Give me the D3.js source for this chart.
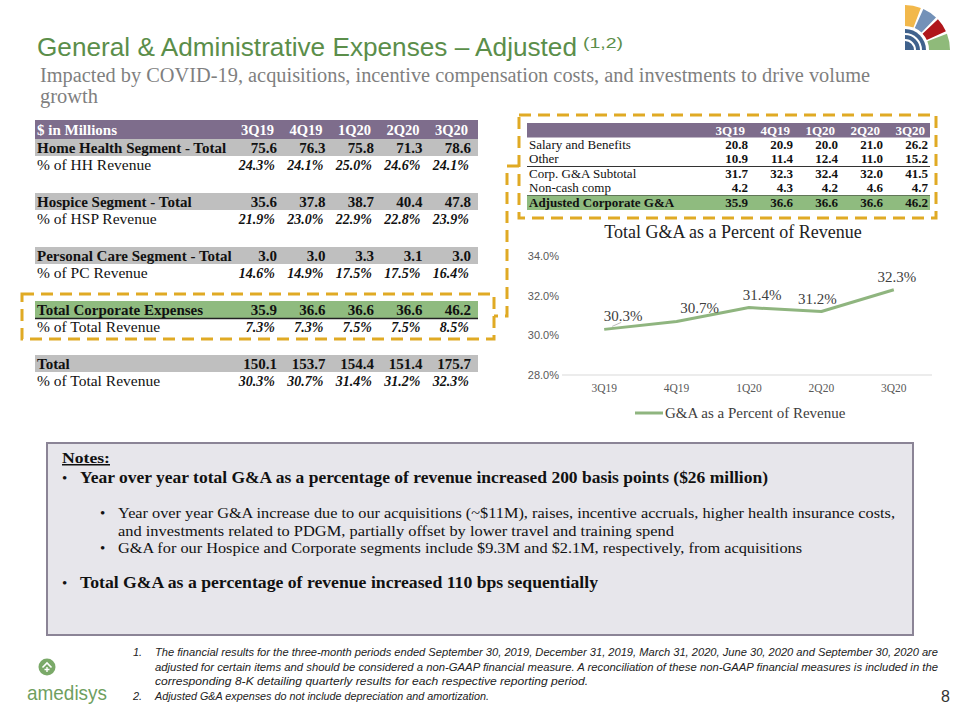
<!DOCTYPE html>
<html><head><meta charset="utf-8">
<script src="https://cdn.jsdelivr.net/npm/d3@7"></script>
<style>body{margin:0;background:#fff}</style>
</head><body><svg id="c" width="960" height="720"></svg>
<script>
// ---------------- DATA ----------------
const quarters = ["3Q19", "4Q19", "1Q20", "2Q20", "3Q20"];
const hhTotal = [75.6, 76.3, 75.8, 71.3, 78.6];
const hhPct = [24.3, 24.1, 25.0, 24.6, 24.1];
const hspTotal = [35.6, 37.8, 38.7, 40.4, 47.8];
const hspPct = [21.9, 23.0, 22.9, 22.8, 23.9];
const pcTotal = [3.0, 3.0, 3.3, 3.1, 3.0];
const pcPct = [14.6, 14.9, 17.5, 17.5, 16.4];
const corpTotal = [35.9, 36.6, 36.6, 36.6, 46.2];
const corpPct = [7.3, 7.3, 7.5, 7.5, 8.5];
const grandTotal = [150.1, 153.7, 154.4, 151.4, 175.7];
const totalPct = [30.3, 30.7, 31.4, 31.2, 32.3];

const salary = [20.8, 20.9, 20.0, 21.0, 26.2];
const other = [10.9, 11.4, 12.4, 11.0, 15.2];
const corpSubtotal = [31.7, 32.3, 32.4, 32.0, 41.5];
const nonCash = [4.2, 4.3, 4.2, 4.6, 4.7];
const adjCorp = [35.9, 36.6, 36.6, 36.6, 46.2];

const gaPctRevenue = [30.3, 30.7, 31.4, 31.2, 32.3];
const yTicks = [28, 30, 32, 34];

const titleText = "General & Administrative Expenses \u2013 Adjusted";
const subtitleLines = ["Impacted by COVID-19, acquisitions, incentive compensation costs, and investments to drive volume", "growth"];
const chartTitle = "Total G&A as a Percent of Revenue";
const legendLabel = "G&A as a Percent of Revenue";
const notes = [
  {lvl: 1, bold: true, bullet: true, text: "Year over year total G&A as a percentage of revenue increased 200 basis points  ($26 million)"},
  {lvl: 2, bold: false, bullet: true, text: "Year over year G&A increase due to our acquisitions (~$11M), raises, incentive accruals, higher health insurance costs,"},
  {lvl: 2, bold: false, bullet: false, text: "and investments related to PDGM, partially offset by lower travel and training spend"},
  {lvl: 2, bold: false, bullet: true, text: "G&A for our Hospice and Corporate segments include $9.3M and $2.1M, respectively, from acquisitions"},
  {lvl: 1, bold: true, bullet: true, text: "Total G&A as a percentage of revenue increased 110 bps sequentially"}
];
const footnotes = [
  {num: "1.", text: "The financial results for the three-month periods ended September 30, 2019, December 31, 2019, March 31, 2020, June 30, 2020 and September 30, 2020 are"},
  {num: "", text: "adjusted for certain items and should be considered a non-GAAP financial measure. A reconciliation of these non-GAAP financial measures is included in the"},
  {num: "", text: "corresponding 8-K detailing quarterly results for each respective reporting period."},
  {num: "2.", text: "Adjusted G&A expenses do not include depreciation and amortization."}
];

// ---------------- LAYOUT ----------------
const SERIF = "'Liberation Serif','Times New Roman',serif";
const SANS = "'Liberation Sans',Arial,sans-serif";
const C = {
  green: "#5b8e4a", purple: "#7e6d8c", gray: "#bfbfbf", rowGreen: "#8fbb7f",
  line: "#8fb57f", gold: "#e0aa24", sub: "#7f7f7f", text: "#111"
};
const svg = d3.select("#c");
const fmt1 = d3.format(".1f");
const fmtPct = d => fmt1(d) + "%";
function fit(sel, w) { return sel.attr("textLength", w).attr("lengthAdjust", "spacingAndGlyphs"); }

// Title
fit(svg.append("text").attr("x", 37).attr("y", 56).attr("font-family", SANS).attr("font-size", 26)
  .attr("fill", C.green).text(titleText), 540);
fit(svg.append("text").attr("x", 583).attr("y", 48).attr("font-family", SANS).attr("font-size", 15)
  .attr("fill", C.green).text("(1,2)"), 40);
const subW = [830, 58];
subtitleLines.forEach((t, i) => {
  fit(svg.append("text").attr("x", 40).attr("y", 82 + i * 21).attr("font-family", SERIF).attr("font-size", 20)
    .attr("fill", C.sub).text(t), subW[i]);
});

// Top-right logo
(function () {
  const g = svg.append("g").attr("transform", "translate(905,50)");
  const segs = [
    {a0: 0.0, a1: 0.36, c: "#f2b84b"},
    {a0: 0.42, a1: 0.76, c: "#7391b8"},
    {a0: 0.82, a1: 1.14, c: "#b0161b"},
    {a0: 1.20, a1: Math.PI / 2, c: "#8fba7a"}
  ];
  const arc = d3.arc();
  segs.forEach(s => g.append("path").attr("d", arc({innerRadius: 24, outerRadius: 45, startAngle: s.a0, endAngle: s.a1})).attr("fill", s.c));
  g.append("path").attr("d", arc({innerRadius: 0, outerRadius: 21, startAngle: 0, endAngle: Math.PI / 2})).attr("fill", "#3f618c");
  [9, 15].forEach(r => g.append("path").attr("d", arc({innerRadius: r, outerRadius: r + 2, startAngle: 0, endAngle: Math.PI / 2})).attr("fill", "#fff"));
})();

// ---------------- LEFT TABLE ----------------
const rowsL = [
  {type: "header", label: "$ in Millions"},
  {type: "gray", label: "Home Health Segment - Total", vals: hhTotal},
  {type: "pct", label: "% of HH Revenue", vals: hhPct},
  {type: "blank"},
  {type: "gray", label: "Hospice Segment - Total", vals: hspTotal},
  {type: "pct", label: "% of HSP Revenue", vals: hspPct},
  {type: "blank"},
  {type: "gray", label: "Personal Care Segment - Total", vals: pcTotal},
  {type: "pct", label: "% of PC Revenue", vals: pcPct},
  {type: "blank"},
  {type: "green", label: "Total Corporate Expenses", vals: corpTotal},
  {type: "pct", label: "% of Total Revenue", vals: corpPct},
  {type: "blank"},
  {type: "gray", label: "Total", vals: grandTotal},
  {type: "pct", label: "% of Total Revenue", vals: totalPct}
];
const yL = d3.scaleBand().domain(d3.range(rowsL.length)).range([120, 390]);
const xL = d3.scalePoint().domain(quarters).range([277, 471]);
const L0 = 35, L1 = 478;
const gL = svg.append("g");
rowsL.forEach((r, i) => {
  const y = yL(i);
  if (r.type === "blank") return;
  if (r.type === "header") {
    gL.append("rect").attr("x", L0).attr("y", y).attr("width", L1 - L0).attr("height", 19).attr("fill", C.purple);
    gL.append("text").attr("x", 37).attr("y", y + 14.5).attr("font-family", SERIF).attr("font-weight", "bold")
      .attr("font-size", 15).attr("fill", "#fff").text(r.label);
    gL.selectAll(null).data(quarters).join("text").attr("x", q => xL(q) - 3).attr("y", y + 14.5)
      .attr("text-anchor", "end").attr("font-family", SERIF).attr("font-weight", "bold").attr("font-size", 14.5)
      .attr("fill", "#fff").text(q => q);
    return;
  }
  if (r.type === "gray" || r.type === "green") {
    gL.append("rect").attr("x", L0).attr("y", y + 1).attr("width", L1 - L0).attr("height", 17)
      .attr("fill", r.type === "gray" ? C.gray : C.rowGreen);
    if (r.type === "green") gL.append("line").attr("x1", L0).attr("x2", L1).attr("y1", y + 18.5).attr("y2", y + 18.5)
      .attr("stroke", "#222").attr("stroke-width", 1.5);
    gL.append("text").attr("x", 37).attr("y", y + 14.5).attr("font-family", SERIF).attr("font-weight", "bold")
      .attr("font-size", 15).attr("fill", C.text).text(r.label);
    gL.selectAll(null).data(r.vals).join("text").attr("x", (d, j) => xL(quarters[j])).attr("y", y + 14.5)
      .attr("text-anchor", "end").attr("font-family", SERIF).attr("font-weight", "bold").attr("font-size", 15)
      .attr("fill", C.text).text(fmt1);
  } else {
    gL.append("text").attr("x", 37).attr("y", y + 13.5).attr("font-family", SERIF)
      .attr("font-size", 15.5).attr("fill", C.text).text(r.label);
    gL.selectAll(null).data(r.vals).join("text").attr("x", (d, j) => xL(quarters[j]) - 2).attr("y", y + 13.5)
      .attr("text-anchor", "end").attr("font-family", SERIF).attr("font-weight", "bold").attr("font-style", "italic")
      .attr("font-size", 14).attr("fill", C.text).text(fmtPct);
  }
});

// ---------------- RIGHT TABLE ----------------
const rowsR = [
  {type: "header"},
  {type: "row", label: "Salary and Benefits", vals: salary},
  {type: "row", label: "Other", vals: other, lineBelow: true},
  {type: "row", label: "Corp. G&A Subtotal", vals: corpSubtotal},
  {type: "row", label: "Non-cash comp", vals: nonCash, lineBelow: true},
  {type: "green", label: "Adjusted Corporate G&A", vals: adjCorp}
];
const yR = d3.scaleBand().domain(d3.range(rowsR.length)).range([123, 210]);
const xR = d3.scalePoint().domain(quarters).range([748, 928]);
const R0 = 527, R1 = 930;
const gR = svg.append("g");
rowsR.forEach((r, i) => {
  const y = yR(i), h = yR.bandwidth();
  if (r.type === "header") {
    gR.append("rect").attr("x", R0).attr("y", y).attr("width", R1 - R0).attr("height", h).attr("fill", C.purple);
    gR.selectAll(null).data(quarters).join("text").attr("x", q => xR(q) - 3).attr("y", y + 11.5)
      .attr("text-anchor", "end").attr("font-family", SERIF).attr("font-weight", "bold").attr("font-size", 13)
      .attr("fill", "#fff").text(q => q);
    return;
  }
  if (r.type === "green") gR.append("rect").attr("x", R0).attr("y", y).attr("width", R1 - R0).attr("height", h).attr("fill", C.rowGreen);
  const bold = r.type === "green";
  gR.append("text").attr("x", 529).attr("y", y + 11.2).attr("font-family", SERIF)
    .attr("font-weight", bold ? "bold" : "normal").attr("font-size", 13).attr("fill", C.text).text(r.label);
  gR.selectAll(null).data(r.vals).join("text").attr("x", (d, j) => xR(quarters[j])).attr("y", y + 11.2)
    .attr("text-anchor", "end").attr("font-family", SERIF).attr("font-weight", "bold").attr("font-size", 13)
    .attr("fill", C.text).text(fmt1);
  if (r.lineBelow) gR.append("line").attr("x1", R0).attr("x2", R1).attr("y1", y + h).attr("y2", y + h)
    .attr("stroke", "#333").attr("stroke-width", 1);
});

// Dashed highlight boxes
const dash = {stroke: C.gold, "stroke-width": 3, "stroke-dasharray": "12,7", fill: "none"};
function styled(sel) { Object.entries(dash).forEach(([k, v]) => sel.attr(k, v)); return sel; }
styled(svg.append("rect").attr("x", 519).attr("y", 115).attr("width", 417).attr("height", 103));
styled(svg.append("rect").attr("x", 22).attr("y", 294).attr("width", 472).attr("height", 45));
styled(svg.append("path").attr("d", "M519,166H507V316H494"));

// ---------------- LINE CHART ----------------
const x = d3.scalePoint().domain(quarters).range([568, 930]).padding(0.5);
const y = d3.scaleLinear().domain([28, 34]).range([375, 256]);
svg.append("text").attr("x", 733).attr("y", 238).attr("text-anchor", "middle").attr("font-family", SERIF)
  .attr("font-size", 18).attr("fill", "#222").text(chartTitle);
svg.append("line").attr("x1", 562).attr("x2", 932).attr("y1", y(28)).attr("y2", y(28)).attr("stroke", "#d9d9d9");
svg.selectAll(null).data(yTicks).join("text").attr("x", 559).attr("y", d => y(d) + 4).attr("text-anchor", "end")
  .attr("font-family", SANS).attr("font-size", 11).attr("fill", "#595959").text(d => d.toFixed(1) + "%");
svg.selectAll(null).data(quarters).join("text").attr("x", d => x(d)).attr("y", 392).attr("text-anchor", "middle")
  .attr("font-family", SERIF).attr("font-size", 11.5).attr("fill", "#595959").text(d => d);
svg.append("path").datum(gaPctRevenue)
  .attr("d", d3.line().x((d, i) => x(quarters[i])).y(d => y(d)))
  .attr("fill", "none").attr("stroke", C.line).attr("stroke-width", 3).attr("stroke-linejoin", "round");
const labelNudge = [19, 23, 13, -4, 3];
svg.append("line").attr("x1", x(quarters[0]) + 8).attr("y1", y(gaPctRevenue[0]) - 3)
  .attr("x2", x(quarters[0]) + 17).attr("y2", y(gaPctRevenue[0]) - 7).attr("stroke", "#bbb").attr("stroke-width", 1);
svg.selectAll(null).data(gaPctRevenue).join("text")
  .attr("x", (d, i) => x(quarters[i]) + labelNudge[i]).attr("y", d => y(d) - 8).attr("text-anchor", "middle")
  .attr("font-family", SERIF).attr("font-size", 15).attr("fill", "#404040").text(fmtPct);
svg.append("line").attr("x1", 635).attr("x2", 663).attr("y1", 413).attr("y2", 413).attr("stroke", C.line).attr("stroke-width", 3);
svg.append("text").attr("x", 665).attr("y", 418).attr("font-family", SERIF).attr("font-size", 15)
  .attr("fill", "#404040").text(legendLabel);

// ---------------- NOTES BOX ----------------
svg.append("rect").attr("x", 47).attr("y", 443).attr("width", 866).attr("height", 192)
  .attr("fill", "#e7e6eb").attr("stroke", "#8b8496").attr("stroke-width", 2);
fit(svg.append("text").attr("x", 62).attr("y", 463).attr("font-family", SERIF).attr("font-weight", "bold")
  .attr("font-size", 15).attr("text-decoration", "underline").attr("fill", C.text).text("Notes:"), 48);
const noteY = [483, 518, 536, 553, 588];
const noteW = [688, 777, 556, 684, 518];
notes.forEach((n, i) => {
  const bx = n.lvl === 1 ? 62 : 100, tx = n.lvl === 1 ? 80 : 118;
  if (n.bullet) svg.append("text").attr("x", bx).attr("y", noteY[i]).attr("font-family", SERIF)
    .attr("font-size", 15).attr("fill", C.text).text("\u2022");
  fit(svg.append("text").attr("x", tx).attr("y", noteY[i]).attr("font-family", SERIF)
    .attr("font-weight", n.bold ? "bold" : "normal").attr("font-size", n.bold ? 16 : 15.5)
    .attr("fill", C.text).text(n.text), noteW[i]);
});

// ---------------- FOOTNOTES ----------------
const fnY = [656, 671, 685, 700];
const fnW = [783, 783, 433, 334];
footnotes.forEach((f, i) => {
  if (f.num) svg.append("text").attr("x", 133).attr("y", fnY[i]).attr("font-family", SANS).attr("font-style", "italic")
    .attr("font-size", 11).attr("fill", "#222").text(f.num);
  fit(svg.append("text").attr("x", 155).attr("y", fnY[i]).attr("font-family", SANS).attr("font-style", "italic")
    .attr("font-size", 11).attr("fill", "#222").text(f.text), fnW[i]);
});
svg.append("text").attr("x", 950).attr("y", 702).attr("text-anchor", "end").attr("font-family", SANS)
  .attr("font-size", 16).attr("fill", "#333").text("8");

// amedisys logo
(function () {
  const g = svg.append("g");
  g.append("circle").attr("cx", 47).attr("cy", 667).attr("r", 8.5).attr("fill", "#7aa968");
  g.append("path").attr("d", "M42.5,667.5L47,663L51.5,667.5").attr("fill", "none").attr("stroke", "#fff").attr("stroke-width", 1.6);
  g.append("path").attr("d", "M47,667V672M44.5,669.5H49.5").attr("stroke", "#fff").attr("stroke-width", 1.4);
  fit(g.append("text").attr("x", 27).attr("y", 700).attr("font-family", SANS).attr("font-size", 21)
    .attr("fill", "#6f9f5f").text("amedisys"), 80);
})();
</script></body></html>
